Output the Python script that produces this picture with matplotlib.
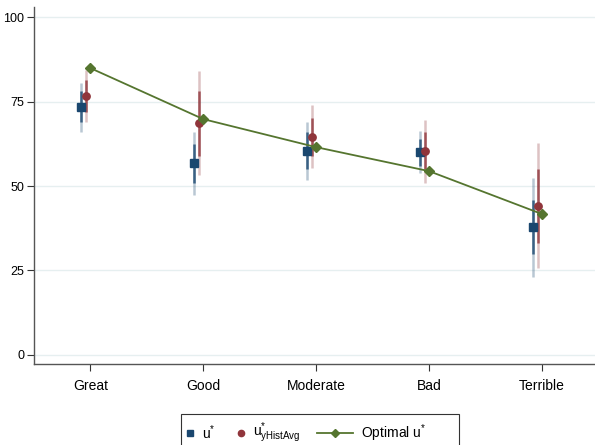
import matplotlib.pyplot as plt
import numpy as np
from matplotlib.lines import Line2D
from matplotlib.patches import Rectangle

plt.rcParams['font.family'] = ['Liberation Sans', 'DejaVu Sans']
plt.rcParams['mathtext.fontset'] = 'custom'
plt.rcParams['mathtext.rm'] = 'Liberation Sans'
plt.rcParams['mathtext.it'] = 'Liberation Sans'

# Data
categories = ['Great', 'Good', 'Moderate', 'Bad', 'Terrible']
u_star = [73.4, 56.8, 60.4, 60.0, 37.9]
u_star_lo = [66.0, 47.3, 51.8, 53.8, 23.0]
u_star_hi = [80.5, 66.0, 69.0, 66.3, 52.4]
u_star_lo_in = [69.0, 51.0, 55.0, 56.0, 30.0]
u_star_hi_in = [78.0, 62.5, 66.0, 64.0, 46.0]

u_hist = [76.6, 68.6, 64.5, 60.4, 44.1]
u_hist_lo = [69.0, 53.3, 55.3, 51.0, 25.7]
u_hist_hi = [84.3, 84.0, 74.0, 69.5, 62.7]
u_hist_lo_in = [72.0, 59.0, 59.0, 55.0, 33.0]
u_hist_hi_in = [81.5, 78.0, 70.0, 66.0, 55.0]

optimal = [84.9, 69.8, 61.5, 54.4, 41.7]

legend_labels = ['u$^{*}$', r'u$^{*}_{\mathrm{yHistAvg}}$', 'Optimal u$^{*}$']

navy = '#1a476f'
maroon = '#90353b'
green = '#55752f'

x = np.arange(1, len(categories) + 1)
off_sq = -0.08
off_ci = -0.035

W, H = 595, 445
fig = plt.figure(figsize=(W / 100, H / 100), dpi=100)
ax = fig.add_axes([34 / W, 81 / H, 1 - 34 / W, (364 - 7) / H])

# faded confidence bands
ax.vlines(x + off_sq, u_star_lo, u_star_hi, color=navy, lw=1.8, alpha=0.3, zorder=2)
ax.vlines(x + off_sq, u_star_lo_in, u_star_hi_in, color=navy, lw=1.8, alpha=0.8, zorder=2)
ax.vlines(x + off_ci, u_hist_lo, u_hist_hi, color=maroon, lw=1.8, alpha=0.3, zorder=2)
ax.vlines(x + off_ci, u_hist_lo_in, u_hist_hi_in, color=maroon, lw=1.8, alpha=0.8, zorder=2)

ax.plot(x + off_sq, u_star, 's', color=navy, ms=5.5, zorder=4)
ax.plot(x + off_ci, u_hist, 'o', color=maroon, ms=5.3, zorder=4)
ax.plot(x, optimal, '-D', color=green, lw=1.3, ms=5.3, zorder=5)

ax.set_xlim(0.5, 5.47)
ax.set_ylim(-2.7, 103)
ax.set_xticks(x)
ax.set_xticklabels(categories, fontsize=10)
ax.set_yticks([0, 25, 50, 75, 100])
ax.tick_params(axis='y', labelsize=9, length=5, color='#333333', pad=2)
ax.tick_params(axis='x', length=5, color='#333333', pad=6)
ax.yaxis.grid(True, color='#e6eff0', lw=1)
ax.set_axisbelow(True)
for s in ['top', 'right']:
    ax.spines[s].set_visible(False)
for s in ['left', 'bottom']:
    ax.spines[s].set_color('#555555')
    ax.spines[s].set_linewidth(1.0)

# legend box drawn by hand, Stata style
fx = lambda px: px / W
fy = lambda py: 1 - py / H
fig.add_artist(Rectangle((fx(181), fy(447)), fx(459) - fx(181), fy(414) - fy(447),
                         transform=fig.transFigure, fill=False,
                         edgecolor='#333333', lw=0.8))
yc = fy(433)
fig.add_artist(Line2D([fx(190)], [yc], marker='s', color=navy, ms=4.5,
                      transform=fig.transFigure))
fig.add_artist(Line2D([fx(241)], [yc], marker='o', color=maroon, ms=4.5,
                      transform=fig.transFigure))
fig.add_artist(Line2D([fx(317), fx(353)], [yc, yc], color=green, lw=1.3,
                      transform=fig.transFigure))
fig.add_artist(Line2D([fx(335)], [yc], marker='D', color=green, ms=4,
                      transform=fig.transFigure))
for px, lab in zip([202, 253, 361], legend_labels):
    fig.text(fx(px), yc, lab, fontsize=10, ha='left', va='center')

fig.savefig('out.png', dpi=100)
